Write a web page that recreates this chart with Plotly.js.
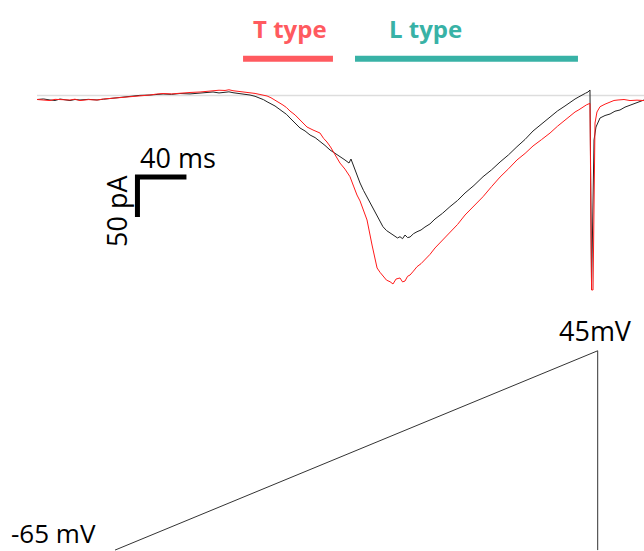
<!DOCTYPE html>
<html>
<head>
<meta charset="utf-8">
<script src="https://cdn.plot.ly/plotly-3.0.1.min.js"></script>
<style>html,body{margin:0;padding:0;background:#fff;}#chart{width:644px;height:551px;}</style>
</head>
<body>
<div id="chart"></div>
<script>
// Current traces (time in ms, current in pA)
const blackT = [0,5.3,10.6,14.7,18.8,22.9,26.9,31.0,35.1,42.0,49.0,54.3,59.6,67.8,75.9,84.0,92.2,97.5,102.9,109.8,116.7,124.9,133.1,138.4,143.7,148.6,153.5,156.7,160.0,167.0,173.9,178.0,182.0,184.9,187.8,191.0,194.3,197.6,200.8,203.7,206.5,210.6,214.7,218.8,222.9,227.0,231.0,235.1,239.2,243.3,246.1,249.0,251.4,254.7,256.3,259.6,261.6,263.7,266.5,269.4,272.7,275.9,279.2,282.4,285.3,288.2,290.2,292.2,294.3,296.3,298.4,300.4,302.5,304.5,307.3,310.2,313.5,316.7,320.8,324.9,331.0,337.1,343.3,349.4,356.7,364.1,371.0,378.0,384.9,391.8,398.4,404.9,411.8,418.8,424.9,431.0,435.1,439.2,442.4,445.7,447.8,449.8,451.4,452.7,453.9,454.7,456.3,459.6,463.7,467.8,471.8,475.9,480.0,484.1,489.8,495.5];
const blackI = [-5.0,-4.3,-5.6,-6.2,-4.4,-5.2,-6.3,-5.0,-5.6,-4.8,-5.6,-4.6,-3.8,-2.0,-0.6,0.2,0.6,1.6,1.9,1.4,2.5,2.0,3.1,3.9,4.4,3.2,3.8,4.6,3.5,2.2,0.6,-1.0,-3.1,-5.2,-7.8,-10.2,-13.1,-16.8,-20.3,-23.6,-28.1,-34.0,-40.6,-44.3,-49.4,-52.6,-56.9,-62.4,-68.1,-71.9,-74.6,-78.1,-80.6,-84.4,-79.4,-93.1,-101.0,-109.4,-118.6,-126.9,-136.0,-145.6,-155.3,-164.0,-168.8,-171.9,-174.2,-175.6,-178.1,-176.5,-179.0,-174.4,-177.6,-176.9,-172.8,-170.3,-168.1,-164.4,-160.5,-154.4,-147.3,-139.0,-131.2,-121.9,-112.4,-101.5,-93.0,-83.1,-74.2,-64.0,-54.9,-44.4,-35.6,-26.5,-19.3,-13.1,-8.4,-4.4,-1.6,0.6,2.9,4.4,6.9,-243.1,-130.6,-55.6,-39.4,-28.1,-25.0,-23.1,-19.6,-18.1,-14.5,-11.9,-8.5,-5.6];

const redT = [0,5.3,10.6,14.7,18.8,22.9,26.9,31.0,35.1,42.0,49.0,54.3,59.6,67.8,75.9,84.0,92.2,97.5,102.9,109.8,116.7,124.9,133.1,138.4,143.7,148.6,153.5,156.7,160.0,167.0,173.9,178.0,182.0,184.9,187.8,191.0,194.3,197.6,200.8,203.7,206.5,210.6,214.7,217.6,220.4,225.3,231.0,233.9,236.7,239.6,242.4,247.3,251.4,255.5,258.4,261.2,263.7,266.1,269.4,273.5,277.6,280.0,282.4,285.3,288.2,290.6,293.1,296.3,298.4,300.4,302.5,304.5,307.3,310.2,313.5,316.7,320.8,324.9,331.0,337.1,343.3,349.4,356.7,364.1,371.0,378.0,384.9,391.8,398.4,404.9,411.8,418.8,424.9,431.0,435.1,439.2,442.4,445.7,448.6,451.4,452.7,453.9,454.7,455.5,457.1,459.6,463.7,467.8,471.0,474.3,479.2,484.1,489.8,495.5];
const redI = [-5.0,-5.8,-6.3,-4.8,-5.0,-6.0,-5.6,-4.6,-6.3,-5.1,-5.6,-4.4,-3.8,-2.6,-1.3,-0.2,0.6,1.8,2.5,2.0,3.1,3.8,4.4,5.2,5.6,6.6,6.3,7.2,6.0,4.9,3.5,2.6,1.3,0.4,-0.6,-2.8,-5.6,-8.2,-11.9,-15.1,-19.4,-24.2,-30.6,-35.8,-39.4,-43.1,-46.9,-53.5,-58.1,-64.3,-71.9,-84.4,-92.0,-101.5,-113.2,-124.4,-131.8,-143.1,-155.6,-186.9,-215.6,-221.0,-225.6,-230.8,-232.8,-235.6,-229.4,-228.1,-233.0,-231.9,-226.0,-224.4,-219.5,-214.0,-210.2,-205.6,-198.6,-190.6,-181.0,-171.9,-161.2,-149.4,-137.8,-126.5,-114.0,-101.9,-91.6,-80.6,-72.4,-63.1,-55.2,-46.9,-38.4,-30.6,-25.3,-20.6,-17.8,-14.0,-11.6,-9.8,-243.1,-243.1,-80.6,-34.4,-20.6,-14.0,-10.8,-8.1,-6.2,-5.6,-5.0,-6.3,-5.8,-6.3];

// Voltage ramp (time in ms, voltage in mV)
const voltT = [63.7, 457.7, 457.7];
const voltV = [-65, 45, -65];

// Baseline and labelled windows
const baselineT = [0, 495.5];
const tWindow = [168.2, 241.6];
const lWindow = [259.6, 441.6];
const windowLevel = 46;

// Scale bar
const scaleOriginT = 82.0, scaleOriginI = -101.9;
const scaleMs = 40, scalePa = 50;

const labels = {t: 'T type', l: 'L type', ms: '40 ms', pa: '50 pA', vHigh: '45mV', vLow: '-65 mV'};

const W = 644, H = 551;
const px = x => x / W, py = y => 1 - y / H;

const traces = [
  {x: voltT, y: voltV, yaxis: 'y2', mode: 'lines', line: {color: '#333', width: 1}, hoverinfo: 'skip'},
  {x: blackT, y: blackI, mode: 'lines', line: {color: '#222', width: 1}, hoverinfo: 'skip'},
  {x: redT, y: redI, mode: 'lines', line: {color: '#ff1a1a', width: 1}, hoverinfo: 'skip'}
];

const labelFont = {family: 'Open Sans, sans-serif', size: 27, color: '#000'};
const ann = (text, x, y, font, extra) => Object.assign({text, xref: 'paper', yref: 'paper', x: px(x), y: py(y), xanchor: 'center', yanchor: 'middle', showarrow: false, font}, extra || {});
const layout = {
  width: W, height: H,
  margin: {l: 0, r: 0, t: 0, b: 0},
  paper_bgcolor: '#fff', plot_bgcolor: '#fff',
  showlegend: false,
  xaxis: {range: [-30.2, 495.5], visible: false, fixedrange: true},
  yaxis: {range: [-569.4, 119.4], visible: false, fixedrange: true},
  yaxis2: {range: [-65.5, 238.6], visible: false, overlaying: 'y', fixedrange: true},
  shapes: [
    {type: 'line', layer: 'below', x0: baselineT[0], x1: baselineT[1], y0: 0, y1: 0, line: {color: '#dddddd', width: 1.5}},
    {type: 'line', x0: tWindow[0], x1: tWindow[1], y0: windowLevel, y1: windowLevel, line: {color: '#ff5a5f', width: 6}},
    {type: 'line', x0: lWindow[0], x1: lWindow[1], y0: windowLevel, y1: windowLevel, line: {color: '#38b2a6', width: 6}},
    {type: 'path', path: `M ${scaleOriginT + scaleMs},${scaleOriginI} L ${scaleOriginT},${scaleOriginI} L ${scaleOriginT},${scaleOriginI - scalePa}`, line: {color: '#000', width: 5}}
  ],
  annotations: [
    ann('<b>' + labels.t + '</b>', 290, 28, {family: 'Open Sans, sans-serif', size: 24, color: '#ff5a5f'}),
    ann('<b>' + labels.l + '</b>', 425.5, 28, {family: 'Open Sans, sans-serif', size: 24, color: '#38b2a6'}),
    ann(labels.ms, 177.5, 157, labelFont),
    ann(labels.pa, 116, 211, labelFont, {textangle: -90}),
    ann(labels.vHigh, 595, 330, labelFont),
    ann(labels.vLow, 53.5, 533, {family: 'Open Sans, sans-serif', size: 26, color: '#000'})
  ]
};

Plotly.newPlot('chart', traces, layout, {staticPlot: true, displayModeBar: false});
</script>
</body>
</html>
